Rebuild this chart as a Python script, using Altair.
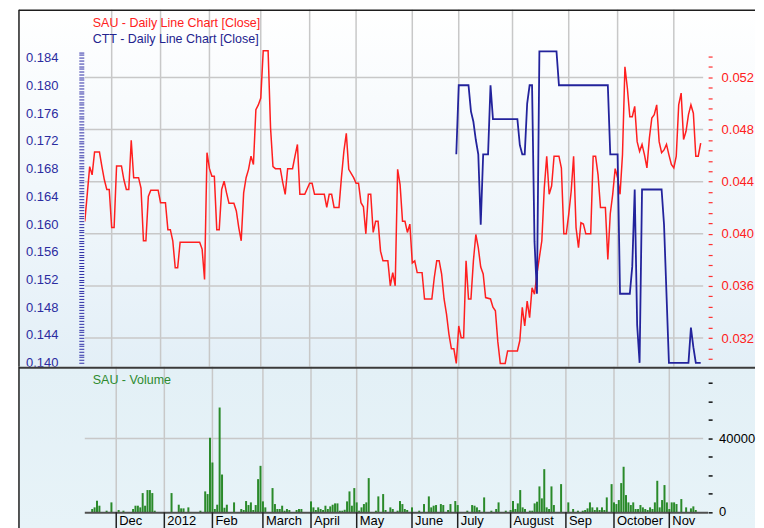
import altair as alt
import pandas as pd

FONT = "Liberation Sans"

# ---- month boundaries (trading-day index) and their labels ----
month_idx = [11, 31, 51, 72, 92, 111, 134, 153, 175, 198, 218, 241]
month_lbl = ["Dec", "2012", "Feb", "March", "April", "May", "June", "July",
             "August", "Sep", "October", "Nov"]

# ---- SAU daily close (trading-day index, close) ----
sau_day = [0, 1, 2, 3, 4, 6, 7, 8, 9, 10, 11, 12, 13, 15, 16, 17, 18, 19, 20, 22,
           23, 24, 25, 26, 27, 30, 31, 33, 34, 35, 36, 37, 38, 39, 47, 48, 49, 50,
           51, 52, 53, 54, 55, 56, 57, 58, 59, 61, 62, 63, 64, 65, 66, 67, 68, 69,
           70, 71, 72, 73, 75, 76, 77, 78, 80, 81, 82, 83, 85, 86, 87, 88, 90, 92,
           93, 94, 98, 99, 100, 101, 102, 104, 105, 106, 107, 108, 110, 111, 112,
           113, 114, 115, 116, 117, 118, 119, 120, 121, 122, 124, 125, 126, 127,
           128, 129, 130, 131, 132, 133, 134, 135, 136, 138, 139, 142, 143, 144,
           145, 146, 147, 148, 149, 150, 151, 152, 153, 154, 155, 156, 157, 158,
           159, 160, 161, 162, 163, 164, 166, 167, 168, 169, 170, 172, 173, 177,
           178, 179, 180, 181, 182, 183, 184, 185, 186, 187, 188, 189, 190, 191,
           192, 194, 195, 196, 197, 198, 199, 200, 201, 202, 203, 204, 205, 207,
           208, 209, 210, 211, 213, 214, 215, 216, 217, 218, 219, 220, 221, 222,
           223, 224, 225, 226, 227, 228, 229, 230, 231, 232, 233, 234, 235, 236,
           237, 238, 239, 240, 241, 242, 243, 244, 245, 246, 247, 248, 249, 250,
           251, 252]
sau_close = [0.1604, 0.1643, 0.1683, 0.1671, 0.1704, 0.1704, 0.1683, 0.1664, 0.1650,
             0.1650, 0.1595, 0.1595, 0.1684, 0.1684, 0.1664, 0.1650, 0.1650, 0.1721,
             0.1667, 0.1667, 0.1652, 0.1576, 0.1576, 0.1640, 0.1649, 0.1649, 0.1631,
             0.1631, 0.1592, 0.1592, 0.1576, 0.1537, 0.1537, 0.1574, 0.1574, 0.1564,
             0.1520, 0.1703, 0.1680, 0.1669, 0.1669, 0.1592, 0.1592, 0.1650, 0.1662,
             0.1645, 0.1630, 0.1630, 0.1619, 0.1595, 0.1576, 0.1645, 0.1667, 0.1679,
             0.1698, 0.1686, 0.1765, 0.1772, 0.1782, 0.1850, 0.1850, 0.1739, 0.1683,
             0.1680, 0.1680, 0.1660, 0.1643, 0.1680, 0.1680, 0.1698, 0.1715, 0.1643,
             0.1643, 0.1659, 0.1659, 0.1643, 0.1643, 0.1624, 0.1643, 0.1643, 0.1624,
             0.1624, 0.1667, 0.1705, 0.1731, 0.1679, 0.1667, 0.1659, 0.1659, 0.1631,
             0.1625, 0.1586, 0.1643, 0.1643, 0.1588, 0.1604, 0.1604, 0.1561, 0.1547,
             0.1547, 0.1511, 0.1530, 0.1511, 0.1679, 0.1657, 0.1604, 0.1604, 0.1588,
             0.1600, 0.1544, 0.1547, 0.1530, 0.1530, 0.1492, 0.1492, 0.1523, 0.1547,
             0.1547, 0.1528, 0.1492, 0.1470, 0.1441, 0.1420, 0.1420, 0.1399, 0.1453,
             0.1436, 0.1436, 0.1547, 0.1492, 0.1492, 0.1547, 0.1585, 0.1566, 0.1538,
             0.1528, 0.1494, 0.1492, 0.1480, 0.1475, 0.1430, 0.1399, 0.1399, 0.1417,
             0.1417, 0.1432, 0.1480, 0.1453, 0.1489, 0.1465, 0.1508, 0.1499, 0.1528,
             0.1552, 0.1576, 0.1652, 0.1698, 0.1643, 0.1655, 0.1698, 0.1698, 0.1681,
             0.1586, 0.1586, 0.1614, 0.1647, 0.1698, 0.1595, 0.1566, 0.1602, 0.1600,
             0.1586, 0.1586, 0.1698, 0.1698, 0.1671, 0.1624, 0.1624, 0.1549, 0.1615,
             0.1643, 0.1680, 0.1667, 0.1643, 0.1700, 0.1827, 0.1796, 0.1755, 0.1755,
             0.1770, 0.1719, 0.1705, 0.1715, 0.1700, 0.1681, 0.1724, 0.1753, 0.1758,
             0.1772, 0.1719, 0.1703, 0.1707, 0.1715, 0.1700, 0.1686, 0.1681, 0.1698,
             0.1772, 0.1789, 0.1722, 0.1734, 0.1758, 0.1772, 0.1760, 0.1698, 0.1698,
             0.1717]

# ---- CTT daily close ----
ctt_day = [152, 153, 157, 158, 159, 160, 161, 162, 163, 165, 166, 167, 177, 178, 179,
           180, 181, 182, 183, 184, 185, 186, 193, 194, 214, 215, 218, 219, 223, 224,
           225, 226, 227, 228, 236, 237, 238, 239, 247, 248, 249, 250, 252]
ctt_close = [0.0461, 0.0514, 0.0514, 0.0494, 0.0486, 0.0472, 0.0461, 0.0407, 0.0461,
             0.0461, 0.0514, 0.0488, 0.0488, 0.0468, 0.0461, 0.0461, 0.0500, 0.0514,
             0.0514, 0.0394, 0.0354, 0.0540, 0.0540, 0.0514, 0.0514, 0.0461, 0.0461,
             0.0354, 0.0354, 0.0375, 0.0434, 0.0330, 0.0301, 0.0434, 0.0434, 0.0407,
             0.0354, 0.0301, 0.0301, 0.0328, 0.0313, 0.0301, 0.0301]

# ---- SAU volume ----
vol_day = [1, 2, 3, 4, 7, 9, 12, 14, 18, 19, 20, 21, 22, 23, 24, 25, 26, 27, 34, 37,
           38, 39, 41, 46, 48, 49, 50, 51, 52, 53, 54, 55, 56, 57, 60, 63, 64, 65,
           66, 67, 68, 69, 70, 71, 72, 73, 76, 77, 78, 79, 80, 81, 82, 83, 86, 87,
           88, 92, 93, 94, 95, 96, 97, 98, 99, 100, 101, 102, 103, 104, 105, 106,
           107, 108, 109, 110, 111, 112, 113, 114, 115, 116, 119, 120, 122, 123,
           125, 126, 128, 129, 130, 131, 132, 134, 137, 139, 141, 142, 143, 144,
           146, 147, 149, 150, 152, 153, 157, 159, 160, 161, 162, 164, 167, 169,
           170, 173, 175, 176, 177, 178, 179, 180, 181, 183, 184, 185, 186, 187,
           188, 189, 190, 191, 192, 193, 196, 199, 201, 203, 205, 206, 207, 208,
           209, 210, 211, 212, 213, 214, 215, 217, 218, 219, 220, 221, 222, 223,
           224, 225, 226, 227, 228, 229, 230, 231, 232, 233, 234, 235, 236, 237,
           238, 239, 240, 241, 242, 243, 244, 246, 248, 250, 251, 252]
vol_value = [18000, 27000, 63000, 36000, 9000, 54000, 12600, 9000, 18000, 36000,
             36000, 27000, 104500, 36000, 120700, 120700, 104500, 9000, 104500, 41400,
             21600, 21600, 27000, 9000, 113500, 99100, 404000, 270000, 18000, 41400,
             568000, 205000, 25000, 41400, 54000, 18000, 12600, 61300, 39600, 54000,
             12600, 39600, 180000, 252000, 59500, 27000, 131500, 45000, 18000, 18000,
             36000, 9000, 18000, 12600, 12600, 18000, 18000, 59500, 27000, 12600,
             27000, 18000, 12600, 36000, 18000, 32400, 41400, 48600, 48600, 9000,
             9000, 14000, 59500, 113500, 36000, 131500, 54000, 9000, 27000, 45000,
             54000, 185600, 9000, 86500, 99100, 12600, 27000, 18000, 9000, 61300,
             45000, 18000, 12600, 27000, 9000, 45000, 86500, 27000, 36000, 39600,
             45000, 39600, 12600, 45000, 61300, 39600, 9000, 39600, 36000, 27000,
             12600, 81000, 9000, 18000, 54000, 9000, 12600, 61300, 18000, 48600,
             120700, 27000, 18000, 9000, 9000, 48600, 57700, 140600, 75700, 234000,
             27000, 18000, 140600, 39600, 153000, 54000, 18000, 9000, 9000, 12600,
             21600, 54000, 27000, 12600, 27000, 12600, 27000, 12600, 81000, 153000,
             54000, 45000, 66700, 158600, 247000, 93700, 54000, 39600, 54000, 18000,
             18000, 39600, 27000, 18000, 12600, 27000, 18000, 54000, 171000, 27000,
             66700, 147800, 54000, 18000, 54000, 54000, 45000, 72000, 27000, 21600,
             32400, 12600]

# ---- axis tick lists ----
sau_ticks = [round(0.140 + k * 0.0004, 4) for k in range(113)]
ctt_ticks = [round(0.0304 + k * 0.0008, 4) for k in range(30)]
ctt_major = [0.032, 0.036, 0.040, 0.044, 0.048, 0.052]
vol_ticks = [k * 100000 for k in range(8)]
vol_grid = [400000]
vol_label_vals = [0, 400000]
vol_label_txt = ["0", "400000"]

W, H_TOP, H_BOT = 620, 358, 146
RIGHT = 672          # right end of the framed area (plot-relative px)
X_DOM = [0, 253]
SAU_DOM = [0.13942, 0.19094]
CTT_DOM = [0.02980, 0.05720]
VOL_DOM = [0, 789000]

one = pd.DataFrame({"a": [0]})
sau_df = pd.DataFrame({"day": sau_day, "close": sau_close})
ctt_df = pd.DataFrame({"day": ctt_day, "close": ctt_close})
vol_df = pd.DataFrame({"day": vol_day, "vol": vol_value})
month_df = pd.DataFrame({"day": month_idx, "lbl": month_lbl})
ctt_grid_df = pd.DataFrame({"v": ctt_major})
vol_grid_df = pd.DataFrame({"v": vol_grid})
vol_lab_df = pd.DataFrame({"v": vol_label_vals, "t": vol_label_txt})

xscale = alt.Scale(domain=X_DOM, nice=False, zero=False)
major_test = "abs(datum.value*250 - round(datum.value*250)) < 0.01"

GRID = "#c8c8c8"

# ================= top panel =================
bg_top = alt.Chart(one).mark_rect(
    color=alt.LinearGradient(
        gradient="linear",
        stops=[alt.GradientStop(color="#ffffff", offset=0),
               alt.GradientStop(color="#e3eff7", offset=1)],
        x1=0, x2=0, y1=0, y2=1)
).encode(x=alt.value(-66), x2=alt.value(RIGHT), y=alt.value(0), y2=alt.value(H_TOP))

vgrid_top = alt.Chart(month_df).mark_rule(color=GRID, strokeWidth=1.5).encode(
    x=alt.X("day:Q", scale=xscale, axis=None))

hgrid_top = alt.Chart(ctt_grid_df).mark_rule(color=GRID, strokeWidth=1.5).encode(
    y=alt.Y("v:Q", scale=alt.Scale(domain=CTT_DOM, nice=False, zero=False), axis=None))

sau_line = alt.Chart(sau_df).mark_line(color="#ff1f1f", strokeWidth=1.5, clip=True).encode(
    x=alt.X("day:Q", scale=xscale, axis=None),
    y=alt.Y("close:Q", scale=alt.Scale(domain=SAU_DOM, nice=False, zero=False),
            axis=alt.Axis(orient="left", values=sau_ticks, offset=1, tickSize=5,
                          tickWidth=1, tickColor="#3030a8", domain=False, grid=False,
                          labelExpr=f"{major_test} ? format(datum.value, '.3f') : ''",
                          labelColor="#2c2ca0", labelPadding=21, labelFont=FONT,
                          labelFontSize=13, labelOverlap=False, labelFlush=False,
                          labelBound=False, title=None, zindex=1)))

ctt_line = alt.Chart(ctt_df).mark_line(color="#23239c", strokeWidth=1.8, clip=True).encode(
    x=alt.X("day:Q", scale=xscale, axis=None),
    y=alt.Y("close:Q", scale=alt.Scale(domain=CTT_DOM, nice=False, zero=False),
            axis=alt.Axis(orient="right", values=ctt_ticks, offset=5, tickSize=4,
                          tickWidth=1.2, tickColor="#ff3030", domain=False, grid=False,
                          labelExpr=f"{major_test} ? format(datum.value, '.3f') : ''",
                          labelColor="#ff2020", labelPadding=9, labelFont=FONT,
                          labelFontSize=13, labelOverlap=False, labelFlush=False,
                          labelBound=False, title=None, zindex=1)))

frame_left_top = alt.Chart(one).mark_rule(color="#1e1e1e", strokeWidth=1.5).encode(
    x=alt.value(-66), y=alt.value(0), y2=alt.value(H_TOP))
frame_top = alt.Chart(one).mark_rule(color="#1e1e1e", strokeWidth=1.5).encode(
    x=alt.value(-66), x2=alt.value(RIGHT), y=alt.value(0.5))

t_sau = alt.Chart(one).mark_text(
    text="SAU - Daily Line Chart [Close]", color="#ff2020", align="left",
    baseline="middle", font=FONT, fontSize=12.5
).encode(x=alt.value(8), y=alt.value(13))
t_ctt = alt.Chart(one).mark_text(
    text="CTT - Daily Line Chart [Close]", color="#23238e", align="left",
    baseline="middle", font=FONT, fontSize=12.5
).encode(x=alt.value(8), y=alt.value(29))

top = alt.layer(
    bg_top, vgrid_top, hgrid_top, sau_line, ctt_line, frame_left_top, frame_top,
    t_sau, t_ctt
).resolve_scale(y="independent").properties(width=W, height=H_TOP)

# ================= volume panel =================
bg_bot = alt.Chart(one).mark_rect(
    color=alt.LinearGradient(
        gradient="linear",
        stops=[alt.GradientStop(color="#e3f0f6", offset=0),
               alt.GradientStop(color="#e7f3f8", offset=1)],
        x1=0, x2=0, y1=0, y2=1)
).encode(x=alt.value(-66), x2=alt.value(RIGHT), y=alt.value(0), y2=alt.value(H_BOT + 16))

vgrid_bot = alt.Chart(month_df).mark_rule(color=GRID, strokeWidth=1.5).encode(
    x=alt.X("day:Q", scale=xscale, axis=None))

hgrid_bot = alt.Chart(vol_grid_df).mark_rule(color=GRID, strokeWidth=1.5).encode(
    y=alt.Y("v:Q", scale=alt.Scale(domain=VOL_DOM, nice=False), axis=None))

bars = alt.Chart(vol_df).mark_bar(color="#2a8a2a", size=2).encode(
    x=alt.X("day:Q", scale=xscale, axis=None),
    y=alt.Y("vol:Q", scale=alt.Scale(domain=VOL_DOM, nice=False),
            axis=alt.Axis(orient="right", values=vol_ticks, offset=5, tickSize=4,
                          tickWidth=1.4, tickColor="#000000", domain=False, grid=False,
                          labels=False, title=None, zindex=1)))

vol_labels = alt.Chart(vol_lab_df).mark_text(
    align="left", baseline="middle", font=FONT, fontSize=13, color="#000000",
    limit=36.5, ellipsis="\u200b"
).encode(
    x=alt.value(636),
    y=alt.Y("v:Q", scale=alt.Scale(domain=VOL_DOM, nice=False), axis=None),
    text="t:N")

# x axis of the volume panel: baseline, month ticks and month labels
x_base = alt.Chart(one).mark_rule(color="#505050", strokeWidth=2).encode(
    x=alt.value(0), x2=alt.value(W + 5), y=alt.value(H_BOT + 0.5))
x_ticks = alt.Chart(month_df).mark_rule(color="#202020", strokeWidth=1.5).encode(
    x=alt.X("day:Q", scale=xscale, axis=None),
    y=alt.value(H_BOT), y2=alt.value(H_BOT + 16))
x_labels = alt.Chart(month_df).mark_text(
    align="left", baseline="top", dx=3, font=FONT, fontSize=13, color="#000000"
).encode(
    x=alt.X("day:Q", scale=xscale, axis=None),
    y=alt.value(H_BOT + 3),
    text="lbl:N")

sep = alt.Chart(one).mark_rule(color="#3a3a3a", strokeWidth=2).encode(
    x=alt.value(-66), x2=alt.value(RIGHT), y=alt.value(1))
frame_left_bot = alt.Chart(one).mark_rule(color="#1e1e1e", strokeWidth=1.5).encode(
    x=alt.value(-66), y=alt.value(0), y2=alt.value(H_BOT + 16))
t_vol = alt.Chart(one).mark_text(
    text="SAU - Volume", color="#2e8b2e", align="left", baseline="middle",
    font=FONT, fontSize=12.5
).encode(x=alt.value(8), y=alt.value(13))

bottom = alt.layer(
    bg_bot, vgrid_bot, hgrid_bot, bars, vol_labels, x_base, x_ticks, x_labels,
    sep, frame_left_bot, t_vol
).resolve_scale(y="independent").properties(width=W, height=H_BOT)

chart = alt.vconcat(top, bottom, spacing=0, bounds="flush").properties(
    padding={"left": 10, "top": 0, "right": 0, "bottom": 0},
    background="white",
).configure_view(strokeWidth=0)

chart.save("out.html", embed_options={"renderer": "svg", "actions": False})
